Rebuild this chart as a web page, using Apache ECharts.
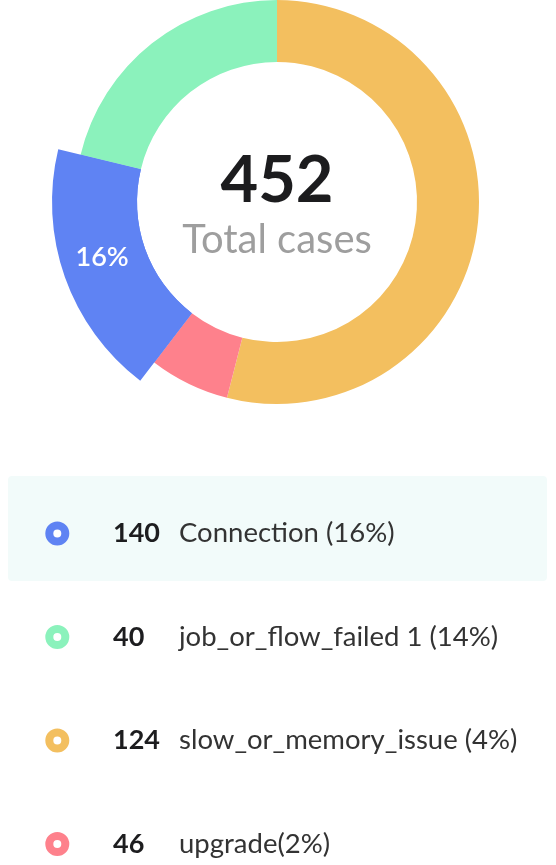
<!DOCTYPE html>
<html>
<head>
<meta charset="utf-8">
<script src="https://cdn.jsdelivr.net/npm/echarts@6/dist/echarts.min.js"></script>
<style>
html,body{margin:0;padding:0;background:#fff;}
#main{width:556px;height:865px;}
</style>
</head>
<body>
<div id="main"></div>
<script>
// Pie slices (clockwise from 12 o'clock)
const sliceNames = ['slow_or_memory_issue', 'upgrade', 'Connection', 'job_or_flow_failed 1'];
const sliceValues = [244, 29, 83, 96];
const sliceColors = ['#f3bf5f', '#fe818c', '#5f83f3', '#8bf2bc'];
const highlightedSlice = 'Connection';
const highlightedLabel = '16%';

// Legend rows
const legendNames = ['Connection', 'job_or_flow_failed 1', 'slow_or_memory_issue', 'upgrade'];
const legendCounts = [140, 40, 124, 46];
const legendLabels = ['Connection (16%)', 'job_or_flow_failed 1 (14%)', 'slow_or_memory_issue (4%)', 'upgrade(2%)'];

const centerCaption = 'Total cases';
const total = sliceValues.reduce((a, b) => a + b, 0);

const colorOf = {};
sliceNames.forEach((n, i) => colorOf[n] = sliceColors[i]);

const chart = echarts.init(document.getElementById('main'));
const FONT = 'Lato';

const baseData = sliceNames.map((n, i) => ({
  name: n, value: sliceValues[i], itemStyle: { color: sliceColors[i] }
}));
const hiData = sliceNames.map((n, i) => ({
  name: n, value: sliceValues[i],
  itemStyle: { color: n === highlightedSlice ? sliceColors[i] : 'rgba(0,0,0,0)' },
  label: { show: n === highlightedSlice }
}));

chart.setOption({
  animation: false,
  graphic: [{
    type: 'rect', left: 8, top: 476, silent: true, z: -10,
    shape: { width: 539, height: 105, r: 4 },
    style: { fill: '#f2fbfa' }
  }],
  title: [{
    text: String(total), left: 277, top: 149, textAlign: 'center', padding: 0,
    textStyle: { fontFamily: FONT, fontWeight: 'bold', fontSize: 65, lineHeight: 65, color: '#1c1c1e' }
  }, {
    text: centerCaption, left: 277, top: 220, textAlign: 'center', padding: 0,
    textStyle: { fontFamily: FONT, fontWeight: 'normal', fontSize: 40, lineHeight: 40, color: '#9e9e9e' }
  }],
  legend: {
    orient: 'vertical', left: 45.3, top: 519.5, height: 345, padding: 0,
    itemWidth: 16, itemHeight: 16, itemGap: 75.5, selectedMode: false,
    data: legendNames.map(n => ({
      name: n, icon: 'circle',
      itemStyle: { color: '#fff', borderColor: colorOf[n], borderWidth: 8 }
    })),
    formatter: name => {
      const i = legendNames.indexOf(name);
      return '{s| }{v|' + legendCounts[i] + '}{n|' + legendLabels[i] + '}';
    },
    textStyle: {
      rich: {
        s: { width: 42.7, fontSize: 25, lineHeight: 30 },
        v: { width: 66, fontFamily: FONT, fontWeight: 'bold', fontSize: 27, lineHeight: 30, color: '#1d1d1f' },
        n: { fontFamily: FONT, fontSize: 27.5, lineHeight: 30, color: '#333333' }
      }
    }
  },
  series: [{
    type: 'pie', center: [277, 202], radius: [140, 202],
    startAngle: 90, clockwise: true, silent: true,
    label: { show: false }, labelLine: { show: false },
    data: baseData
  }, {
    type: 'pie', center: [277, 202], radius: [140, 225],
    startAngle: 90, clockwise: true, silent: true, legendHoverLink: false,
    labelLine: { show: false },
    label: {
      position: 'inside', formatter: () => highlightedLabel, offset: [0, -7],
      fontFamily: FONT, fontWeight: 600, fontSize: 27, color: '#ffffff'
    },
    data: hiData
  }]
});
</script>
</body>
</html>
